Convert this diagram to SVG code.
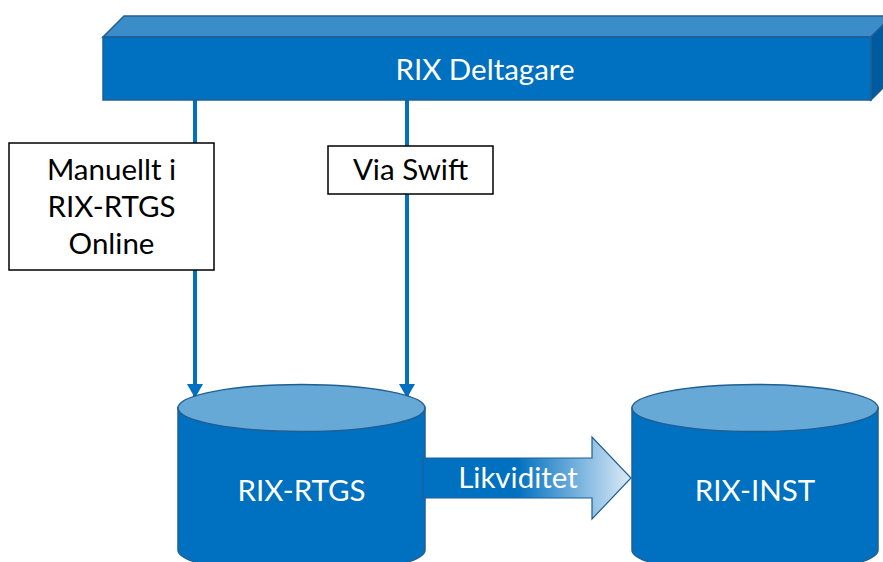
<svg xmlns="http://www.w3.org/2000/svg" width="883" height="562" viewBox="0 0 883 562">
<defs>
<style>
.front{fill:#0070C0;stroke:#1F5F93;stroke-width:1.5}
.top{fill:#3A8DC8;stroke:#1F5F93;stroke-width:1.5}
.side{fill:#005A9E;stroke:#1F5F93;stroke-width:1.5}
.ell{fill:#66A8D6;stroke:#1F5F93;stroke-width:1.5}
.wt{font-family:Lato,"Liberation Sans",sans-serif;font-size:29.5px;fill:#FFFFFF;text-anchor:middle}
.bt{font-family:Lato,"Liberation Sans",sans-serif;font-size:29.5px;fill:#000000;text-anchor:middle}
.box{fill:#FFFFFF;stroke:#000000;stroke-width:1.5}
.conn{stroke:#0070C0;stroke-width:4;fill:none}
</style>
<marker id="ah" markerUnits="userSpaceOnUse" markerWidth="16" markerHeight="16" refX="14" refY="8" orient="auto">
<path d="M0,0 L14,8 L0,16 Z" fill="#0070C0"/>
</marker>
<linearGradient id="grad" x1="423" y1="0" x2="631" y2="0" gradientUnits="userSpaceOnUse">
<stop offset="0" stop-color="#0070C0"/>
<stop offset="0.45" stop-color="#0070C0"/>
<stop offset="1" stop-color="#DDEBF7"/>
</linearGradient>
</defs>
<g id="connectors">
<line class="conn" x1="195" y1="100" x2="195" y2="398" marker-end="url(#ah)"/>
<line class="conn" x1="407" y1="100" x2="407" y2="398" marker-end="url(#ah)"/>
</g>
<g id="rix-deltagare">
<polygon class="top" points="103,37 124,16 892,16 871,37"/>
<polygon class="side" points="871,37 892,16 892,79 871,100"/>
<rect class="front" x="103" y="37" width="768" height="63"/>
<text class="wt" x="485" y="80">RIX Deltagare</text>
</g>
<g id="manuellt">
<rect class="box" x="9" y="143" width="205" height="127"/>
<text class="bt" x="111.5" y="180">Manuellt i</text>
<text class="bt" x="111.5" y="217">RIX-RTGS</text>
<text class="bt" x="111.5" y="254">Online</text>
</g>
<g id="via-swift">
<rect class="box" x="328" y="146" width="165" height="48"/>
<text class="bt" x="410.5" y="180">Via Swift</text>
</g>
<g id="rix-rtgs">
<path class="front" d="M178,408 L178,550 A123.5,23.5 0 0 0 425,550 L425,408 Z"/>
<ellipse class="ell" cx="301.5" cy="408" rx="123.5" ry="23.5"/>
<text class="wt" x="301.5" y="501">RIX-RTGS</text>
</g>
<g id="likviditet">
<polygon points="423,458 592,458 592,437 631,478 592,519 592,498 423,498" fill="url(#grad)" stroke="#1F5F93" stroke-width="1.2"/>
<text class="wt" x="518" y="488">Likviditet</text>
</g>
<g id="rix-inst">
<path class="front" d="M632,408 L632,550 A123,23.5 0 0 0 878,550 L878,408 Z"/>
<ellipse class="ell" cx="755" cy="408" rx="123" ry="23.5"/>
<text class="wt" x="755" y="501">RIX-INST</text>
</g>
</svg>
